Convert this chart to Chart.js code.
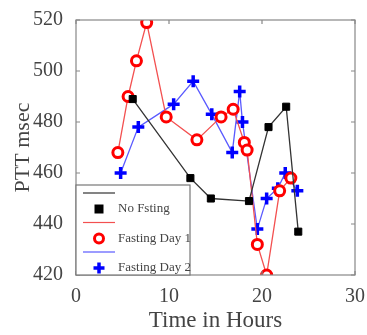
<!DOCTYPE html>
<html>
<head>
<meta charset="utf-8">
<script src="https://cdn.jsdelivr.net/npm/chart.js@4/dist/chart.umd.min.js"></script>
<style>
  html, body { margin: 0; padding: 0; background: #fff; }
</style>
</head>
<body>
<canvas id="ptt" width="367" height="335"></canvas>
<script>
// series (hours, msec)
var noFastX = [6.1, 12.3, 14.5, 18.6, 20.7, 22.6, 23.9];
var noFastY = [489, 458, 450, 449, 478, 486, 437];

var day1X = [4.5, 5.6, 6.5, 7.6, 9.7, 13.0, 15.6, 16.9, 18.1, 18.4, 19.5, 20.5, 21.9, 23.1];
var day1Y = [468, 490, 504, 519, 482, 473, 482, 485, 472, 469, 432, 420, 453, 458];

var day2X = [4.8, 6.7, 10.5, 12.6, 14.6, 16.8, 17.6, 17.9, 19.5, 20.5, 21.7, 22.5, 23.8];
var day2Y = [460, 478, 487, 496, 483, 468, 492, 480, 438, 450, 454, 460, 453];

var xTicks = [0, 10, 20, 30];
var yTicks = [420, 440, 460, 480, 500, 520];

function pts(xs, ys) {
    return xs.map(function (x, i) { return { x: x, y: ys[i] }; });
}

var txt = '#444';
var serif = '"Liberation Serif", "DejaVu Serif", serif';

// MATLAB style frame, inward ticks and the two-row legend
var matlabBits = {
    id: 'matlabBits',
    afterDatasetsDraw: function (chart) {
        var c = chart.ctx, a = chart.chartArea;
        var xs = chart.scales.x, ys = chart.scales.y;
        c.save();
        c.strokeStyle = '#888';
        c.lineWidth = 1.2;
        c.strokeRect(a.left, a.top, a.right - a.left, a.bottom - a.top);
        c.beginPath();
        xTicks.forEach(function (t) {
            var p = xs.getPixelForValue(t);
            c.moveTo(p, a.bottom); c.lineTo(p, a.bottom - 4);
            c.moveTo(p, a.top); c.lineTo(p, a.top + 4);
        });
        yTicks.forEach(function (t) {
            var p = ys.getPixelForValue(t);
            c.moveTo(a.left, p); c.lineTo(a.left + 4, p);
            c.moveTo(a.right, p); c.lineTo(a.right - 4, p);
        });
        c.stroke();

        // legend box
        var lx = a.left, ly = 185, lw = 114, lh = a.bottom - ly;
        c.fillStyle = '#fff';
        c.fillRect(lx, ly, lw, lh);
        c.strokeStyle = '#777';
        c.lineWidth = 1.2;
        c.strokeRect(lx, ly, lw, lh);
        c.font = '13px ' + serif;
        c.textBaseline = 'middle';
        chart.data.datasets.forEach(function (ds, i) {
            var yl = ly + 8 + i * 29.5;
            var ym = yl + 16;
            var mx = lx + 23;
            c.strokeStyle = ds.borderColor;
            c.lineWidth = 1.2;
            c.beginPath();
            c.moveTo(lx + 7, yl); c.lineTo(lx + 39, yl);
            c.stroke();
            c.fillStyle = ds.pointBackgroundColor;
            c.strokeStyle = ds.pointBorderColor;
            c.lineWidth = ds.pointBorderWidth;
            c.beginPath();
            if (ds.pointStyle === 'rect') {
                c.rect(mx - 4.5, ym - 4.5, 9, 9);
                c.fill();
            } else if (ds.pointStyle === 'circle') {
                c.arc(mx, ym, 4.5, 0, Math.PI * 2);
                c.stroke();
            } else {
                c.moveTo(mx - 5.5, ym); c.lineTo(mx + 5.5, ym);
                c.moveTo(mx, ym - 5.5); c.lineTo(mx, ym + 5.5);
                c.stroke();
            }
            c.fillStyle = txt;
            c.fillText(ds.label, lx + 42, ym);
        });
        c.restore();
    }
};

var ctx = document.getElementById('ptt').getContext('2d');
var myChart = new Chart(ctx, {
    type: 'line',
    data: {
        datasets: [{
            label: 'No Fsting',
            data: pts(noFastX, noFastY),
            borderColor: '#333',
            borderWidth: 1.3,
            pointStyle: 'rect',
            pointRadius: 5,
            pointBackgroundColor: '#000',
            pointBorderColor: '#000',
            pointBorderWidth: 1
        }, {
            label: 'Fasting Day 1',
            data: pts(day1X, day1Y),
            borderColor: '#f35050',
            borderWidth: 1.3,
            pointStyle: 'circle',
            pointRadius: 5,
            pointBackgroundColor: '#fff',
            pointBorderColor: '#f00',
            pointBorderWidth: 3
        }, {
            label: 'Fasting Day 2',
            data: pts(day2X, day2Y),
            borderColor: '#5a5aff',
            borderWidth: 1.3,
            pointStyle: 'cross',
            pointRadius: 6,
            pointBackgroundColor: '#00f',
            pointBorderColor: '#00f',
            pointBorderWidth: 3.5
        }]
    },
    options: {
        responsive: false,
        animation: false,
        layout: { padding: { top: 20, right: 11, left: 0, bottom: 0 } },
        plugins: { legend: { display: false }, tooltip: { enabled: false } },
        scales: {
            x: {
                type: 'linear',
                min: 0, max: 30,
                afterBuildTicks: function (s) { s.ticks = xTicks.map(function (v) { return { value: v }; }); },
                afterFit: function (s) { s.height = 60; },
                grid: { display: false },
                border: { display: false },
                ticks: { color: txt, font: { family: serif, size: 20 }, padding: 2 },
                title: { display: true, text: 'Time in Hours', color: txt, font: { family: serif, size: 23 }, padding: 0 }
            },
            y: {
                min: 420, max: 520,
                afterBuildTicks: function (s) { s.ticks = yTicks.map(function (v) { return { value: v }; }); },
                afterFit: function (s) { s.width = 76; },
                grid: { display: false },
                border: { display: false },
                ticks: { color: txt, font: { family: serif, size: 20 }, padding: 5 },
                title: { display: true, text: 'PTT msec', color: txt, font: { family: serif, size: 22 }, padding: { top: 10, bottom: 0 } }
            }
        }
    },
    plugins: [matlabBits]
});
</script>
</body>
</html>
